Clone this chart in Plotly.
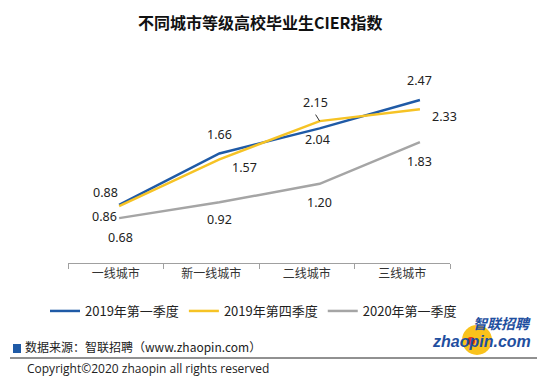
import plotly.graph_objects as go

categories = ["一线城市", "新一线城市", "二线城市", "三线城市"]
series_names = ["2019年第一季度", "2019年第四季度", "2020年第一季度"]
q1_2019 = [0.88, 1.66, 2.04, 2.47]
q4_2019 = [0.86, 1.57, 2.15, 2.33]
q1_2020 = [0.68, 0.92, 1.20, 1.83]
colors = ["#1f5aa6", "#f6c325", "#a5a5a5"]

# label offsets (px) per series / point
label_offsets = [
    [(-14, 12), (0, 19), (-2, -11), (0, 19)],
    [(-15, -10), (25, -8), (-4, 19), (25, -7)],
    [(1, -19), (0, -17), (0, -19), (0, -19)],
]

OFF = 8  # page body margin
fig_w, fig_h = 546 - OFF, 387 - OFF
ml, mt = 68 - OFF, 65 - OFF
pw, ph = 382, 198
mr = fig_w - ml - pw
mb = fig_h - mt - ph

def px2paper(xp, yp):
    # page pixel -> paper coords
    return (xp - OFF - ml) / pw, (fig_h - mb - (yp - OFF)) / ph

fig = go.Figure()

# invisible trace to register the visible category axis
fig.add_trace(go.Scatter(x=categories, y=q1_2019, mode="markers",
                         marker=dict(opacity=0), showlegend=False,
                         hoverinfo="skip", xaxis="x", yaxis="y"))

all_series = [q1_2019, q4_2019, q1_2020]
for name, vals, col in zip(series_names, all_series, colors):
    fig.add_trace(go.Scatter(x=categories, y=vals, mode="lines", name=name,
                             line=dict(color=col, width=2.5),
                             xaxis="x2", yaxis="y"))

annotations = []
for vals, offs in zip(all_series, label_offsets):
    for c, v, (dx, dy) in zip(categories, vals, offs):
        annotations.append(dict(x=c, y=v, xref="x2", yref="y", text=f"{v:.2f}",
                                showarrow=False, xshift=dx, yshift=dy,
                                font=dict(size=12.5, color="#222",
                                          family="Noto Sans, Open Sans, sans-serif")))

# leader line for 2.15
annotations.append(dict(x=categories[2], y=q4_2019[2], xref="x2", yref="y",
                        ax=-5, ay=-8, showarrow=True, arrowhead=0, arrowwidth=1,
                        arrowcolor="#333", text="", standoff=0))

# title
tx, ty = px2paper(261, 22)
annotations.append(dict(text="<b>不同城市等级高校毕业生CIER指数</b>", xref="paper", yref="paper",
                        x=tx, y=ty, xanchor="center", yanchor="middle", showarrow=False,
                        font=dict(size=16, color="#111", family="Noto Sans CJK SC")))

# footer
fx, fy = px2paper(23, 346)
annotations.append(dict(text="数据来源：智联招聘（www.zhaopin.com）", x=fx, y=fy,
                        xref="paper", yref="paper", xanchor="left", yanchor="middle",
                        showarrow=False,
                        font=dict(size=12, color="#222", family="Noto Sans CJK SC")))
cx, cy = px2paper(25, 368)
annotations.append(dict(text="Copyright©2020 zhaopin all rights reserved", x=cx, y=cy,
                        xref="paper", yref="paper", xanchor="left", yanchor="middle",
                        showarrow=False,
                        font=dict(size=12, color="#222", family="Open Sans, sans-serif")))
# logo text
lx, ly = px2paper(502, 323)
annotations.append(dict(text="<b><i>智联招聘</i></b>", x=lx, y=ly, xref="paper", yref="paper",
                        xanchor="center", yanchor="middle", showarrow=False,
                        font=dict(size=14, color="#1f4fa0", family="Noto Sans CJK SC")))
zx, zy = px2paper(481, 341)
annotations.append(dict(text="<b><i>zhaopin.com</i></b>", x=zx, y=zy, xref="paper", yref="paper",
                        xanchor="center", yanchor="middle", showarrow=False,
                        font=dict(size=16, color="#1f4fa0", family="Liberation Sans")))

shapes = []
# blue square
x0, y0 = px2paper(13, 353)
x1, y1 = px2paper(21, 344)
shapes.append(dict(type="rect", xref="paper", yref="paper", x0=x0, y0=y0, x1=x1, y1=y1,
                   fillcolor="#1f5aa6", line=dict(width=0)))
# separator line
x0, y0 = px2paper(10, 358)
x1, _ = px2paper(537, 358)
shapes.append(dict(type="line", xref="paper", yref="paper", x0=x0, y0=y0, x1=x1, y1=y0,
                   line=dict(color="#222", width=1)))
# logo yellow circle
x0, y0 = px2paper(462, 355)
x1, y1 = px2paper(492, 325)
shapes.append(dict(type="circle", xref="paper", yref="paper", x0=x0, y0=y0, x1=x1, y1=y1,
                   fillcolor="#f9c21c", line=dict(width=0), layer="below"))
x0, y0 = px2paper(467, 345)
x1, y1 = px2paper(475, 337)
shapes.append(dict(type="circle", xref="paper", yref="paper", x0=x0, y0=y0, x1=x1, y1=y1,
                   fillcolor="#e0301e", line=dict(width=0), layer="below"))

lgx, lgy = px2paper(45, 296)
fig.update_layout(
    width=fig_w, height=fig_h,
    margin=dict(l=ml, r=mr, t=mt, b=mb, autoexpand=False),
    paper_bgcolor="white", plot_bgcolor="white",
    showlegend=True,
    legend=dict(orientation="h", x=lgx, xanchor="left", y=lgy, yanchor="top",
                font=dict(size=13, color="#222", family="Noto Sans CJK SC"),
                tracegroupgap=0, bgcolor="rgba(0,0,0,0)"),
    xaxis=dict(type="category", categoryarray=categories, range=[-0.5, 3.5],
               showline=True, linecolor="#a0a0a0", linewidth=1,
               ticks="outside", tickson="boundaries", ticklen=5, tickcolor="#a0a0a0",
               showgrid=False, zeroline=False,
               tickfont=dict(size=12, color="#333", family="Noto Sans CJK SC")),
    xaxis2=dict(type="category", categoryarray=categories, overlaying="x",
                range=[-0.51, 3.30], visible=False, showgrid=False),
    yaxis=dict(range=[0, 3.0], visible=False, showgrid=False, zeroline=False),
    annotations=annotations,
    shapes=shapes,
)

fig.write_html("out.html")
